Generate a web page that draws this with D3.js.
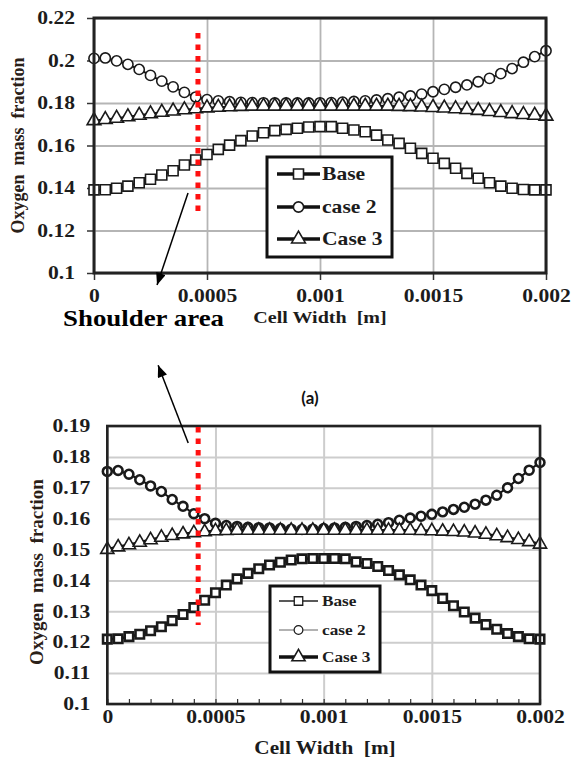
<!DOCTYPE html>
<html><head><meta charset="utf-8">
<script src="https://cdn.jsdelivr.net/npm/d3@7"></script>
<style>body{margin:0;background:#fff} svg{display:block}</style>
</head><body>
<svg id="c" width="571" height="767"></svg>
<script>
// ---------- data ----------
const cellWidth = [0,0.00005,0.0001,0.00015,0.0002,0.00025,0.0003,0.00035,0.0004,0.00045,
  0.0005,0.00055,0.0006,0.00065,0.0007,0.00075,0.0008,0.00085,0.0009,0.00095,
  0.001,0.00105,0.0011,0.00115,0.0012,0.00125,0.0013,0.00135,0.0014,0.00145,
  0.0015,0.00155,0.0016,0.00165,0.0017,0.00175,0.0018,0.00185,0.0019,0.00195,0.002];
const seriesNames = ["Base","case 2","Case 3"];

const topBase  = [0.1391,0.1392,0.1399,0.1409,0.1425,0.1441,0.1461,0.1481,0.1508,0.1532,
  0.1558,0.1582,0.1602,0.1623,0.1645,0.1660,0.1670,0.1676,0.1681,0.1687,
  0.1689,0.1689,0.1681,0.1673,0.1665,0.1649,0.1626,0.1610,0.1587,0.1563,
  0.1540,0.1516,0.1493,0.1469,0.1446,0.1425,0.1409,0.1399,0.1393,0.1391,0.1391];
const topCase2 = [0.2010,0.2012,0.1998,0.1982,0.1958,0.1930,0.1903,0.1876,0.1850,0.1828,
  0.1816,0.1810,0.1806,0.1803,0.1802,0.1801,0.1800,0.1800,0.1800,0.1800,
  0.1801,0.1802,0.1804,0.1807,0.1810,0.1814,0.1820,0.1827,0.1833,0.1842,
  0.1853,0.1864,0.1874,0.1885,0.1900,0.1916,0.1938,0.1962,0.1992,0.2018,0.2046];
const topCase3 = [0.1717,0.1722,0.1728,0.1735,0.1742,0.1749,0.1756,0.1762,0.1768,0.1773,
  0.1777,0.1780,0.1782,0.1784,0.1785,0.1785,0.1785,0.1785,0.1785,0.1785,
  0.1785,0.1785,0.1785,0.1785,0.1785,0.1785,0.1785,0.1784,0.1783,0.1781,
  0.1779,0.1776,0.1773,0.1769,0.1765,0.1760,0.1755,0.1750,0.1746,0.1742,0.1738];

const botBase  = [0.1210,0.1211,0.1218,0.1226,0.1237,0.1250,0.1270,0.1290,0.1312,0.1336,
  0.1360,0.1385,0.1405,0.1423,0.1438,0.1450,0.1459,0.1466,0.1470,0.1471,
  0.1471,0.1471,0.1470,0.1460,0.1455,0.1445,0.1432,0.1418,0.1402,0.1385,
  0.1367,0.1342,0.1318,0.1298,0.1278,0.1257,0.1242,0.1228,0.1218,0.1211,0.1210];
const botCase2 = [0.1753,0.1756,0.1744,0.1726,0.1706,0.1688,0.1662,0.1640,0.1616,0.1600,
  0.1585,0.1578,0.1575,0.1572,0.1571,0.1570,0.1568,0.1566,0.1565,0.1566,
  0.1568,0.1570,0.1572,0.1575,0.1578,0.1582,0.1587,0.1595,0.1602,0.1608,
  0.1614,0.1622,0.1630,0.1637,0.1647,0.1660,0.1676,0.1700,0.1730,0.1757,0.1782];
const botCase3 = [0.1500,0.1508,0.1515,0.1523,0.1531,0.1539,0.1545,0.1550,0.1554,0.1557,
  0.1560,0.1561,0.1562,0.1562,0.1562,0.1562,0.1562,0.1562,0.1562,0.1562,
  0.1562,0.1562,0.1562,0.1562,0.1562,0.1562,0.1562,0.1562,0.1562,0.1561,
  0.1560,0.1559,0.1558,0.1556,0.1553,0.1549,0.1544,0.1538,0.1532,0.1525,0.1517];

const xTickValues = [0,0.0005,0.001,0.0015,0.002];
const xTickLabels = ["0","0.0005","0.001","0.0015","0.002"];
const xMinorTicks = [0,0.0001,0.0002,0.0003,0.0004,0.0005,0.0006,0.0007,0.0008,0.0009,0.001,
  0.0011,0.0012,0.0013,0.0014,0.0015,0.0016,0.0017,0.0018,0.0019,0.002];
const yTopTicks  = [0.1,0.12,0.14,0.16,0.18,0.2,0.22];
const yTopLabels = ["0.1","0.12","0.14","0.16","0.18","0.2","0.22"];
const yBotTicks  = [0.1,0.11,0.12,0.13,0.14,0.15,0.16,0.17,0.18,0.19];
const yBotLabels = ["0.1","0.11","0.12","0.13","0.14","0.15","0.16","0.17","0.18","0.19"];

const xTitle = "Cell Width  [m]";
const yTitle = "Oxygen  mass  fraction";
const shoulderLabel = "Shoulder area";
const panelLabel = "(a)";
// annotations in data units
const topShoulder = {x:0.00046, y0:0.2129, y1:0.1268};
const botShoulder = {x:0.00042, y0:0.1897, y1:0.1256};
const topArrow = {x0:0.000416, y0:0.1376, x1:0.000279, y1:0.0944};
const botArrow = {x0:0.000374, y0:0.1845, x1:0.000235, y1:0.2097};

// ---------- drawing ----------
const svg = d3.select("#c");
svg.append("rect").attr("width",571).attr("height",767).attr("fill","#fff");
const SERIF = "'Liberation Serif','Times New Roman','DejaVu Serif',serif";
const SX = 1.2;

const defs = svg.append("defs");
defs.append("marker").attr("id","arr").attr("viewBox","0 0 12 10")
  .attr("refX",12).attr("refY",5).attr("markerWidth",13).attr("markerHeight",10)
  .attr("markerUnits","userSpaceOnUse").attr("orient","auto")
  .append("path").attr("d","M0,0 L12,5 L0,10 Z").attr("fill","#000");

function stext(g, x, y, txt, size, anchor, sx){
  return g.append("text")
    .attr("transform",`translate(${x},${y}) scale(${sx||SX},1)`)
    .attr("text-anchor",anchor||"middle")
    .style("font-family",SERIF).style("font-weight","bold")
    .style("font-size",size+"px").style("white-space","pre")
    .attr("fill","#1c1c1c").text(txt);
}

function panel(cfg){
  const x = d3.scaleLinear().domain([0,0.002]).range([cfg.left,cfg.right]);
  const y = d3.scaleLinear().domain(cfg.yDomain).range([cfg.bottom,cfg.top]);
  const g = svg.append("g");
  const W = cfg.right-cfg.left, H = cfg.bottom-cfg.top;

  // grid
  g.append("g").attr("transform",`translate(0,${cfg.bottom})`)
    .call(d3.axisBottom(x).tickValues(xTickValues).tickSize(-H).tickFormat(""))
    .call(a=>{a.select(".domain").remove(); a.selectAll("line").attr("stroke",cfg.gridColor).attr("stroke-width",cfg.gridW);});
  g.append("g").attr("transform",`translate(${cfg.left},0)`)
    .call(d3.axisLeft(y).tickValues(cfg.yTicks).tickSize(-W).tickFormat(""))
    .call(a=>{a.select(".domain").remove(); a.selectAll("line").attr("stroke",cfg.gridColor).attr("stroke-width",cfg.gridW);});

  // minor inner ticks
  if(cfg.minor){
    g.append("g").attr("transform",`translate(0,${cfg.bottom})`)
      .call(d3.axisBottom(x).tickValues(xMinorTicks).tickSize(-5).tickFormat(""))
      .call(a=>{a.select(".domain").remove(); a.selectAll("line").attr("stroke","#333").attr("stroke-width",1.2);});
  }

  // axes with labels
  const ya = g.append("g").attr("transform",`translate(${cfg.left},0)`)
    .call(d3.axisLeft(y).tickValues(cfg.yTicks).tickFormat((d,i)=>cfg.yLabels[i]).tickSize(cfg.outTick).tickPadding(0));
  ya.select(".domain").remove();
  ya.selectAll("line").attr("stroke","#333").attr("stroke-width",1.5);
  ya.selectAll("text").attr("x",null).attr("transform",`translate(${-cfg.yLabGap},0) scale(${SX},1)`)
    .style("font-family",SERIF).style("font-weight","bold").style("font-size","18px").attr("fill","#1c1c1c");

  const xa = g.append("g").attr("transform",`translate(0,${cfg.bottom})`)
    .call(d3.axisBottom(x).tickValues(xTickValues).tickFormat((d,i)=>xTickLabels[i]).tickSize(cfg.outTick).tickPadding(0));
  xa.select(".domain").remove();
  xa.selectAll("line").attr("stroke","#333").attr("stroke-width",1.5);
  xa.selectAll("text").attr("y",null).attr("dy",null)
    .attr("transform",`translate(0,${cfg.xLabBase}) scale(${SX},1)`)
    .style("font-family",SERIF).style("font-weight","bold").style("font-size","18px").attr("fill","#1c1c1c");

  // series
  const sym = [d3.symbolSquare, d3.symbolCircle, d3.symbolTriangle];
  cfg.series.forEach((vals,k)=>{
    const pts = cellWidth.map((c,i)=>[c,vals[i]]);
    g.append("path").datum(pts).attr("fill","none").attr("stroke","#111")
      .attr("stroke-width",cfg.lineW[k])
      .attr("d",d3.line().x(d=>x(d[0])).y(d=>y(d[1])));
    g.append("g").selectAll("path").data(pts).join("path")
      .attr("transform",d=>`translate(${x(d[0])},${y(d[1])})`)
      .attr("d",d3.symbol(sym[k], cfg.symSize[k]))
      .attr("fill","#fff").attr("stroke","#1a1a1a").attr("stroke-width",cfg.symStroke[k]);
  });

  // border
  g.append("rect").attr("x",cfg.left).attr("y",cfg.top).attr("width",W).attr("height",H)
    .attr("fill","none").attr("stroke","#222").attr("stroke-width",cfg.borderW);

  // legend
  const L = cfg.legend;
  g.append("rect").attr("x",L.x0).attr("y",L.y0).attr("width",L.x1-L.x0).attr("height",L.y1-L.y0)
    .attr("fill","#fff").attr("stroke","#111").attr("stroke-width",3);
  seriesNames.forEach((nm,k)=>{
    const ry = L.rows[k];
    g.append("line").attr("x1",L.lx0).attr("x2",L.lx1).attr("y1",ry).attr("y2",ry)
      .attr("stroke",L.lineC[k]).attr("stroke-width",L.lineW[k]);
    g.append("path").attr("transform",`translate(${(L.lx0+L.lx1)/2},${ry})`)
      .attr("d",d3.symbol(sym[k], L.symSize[k])).attr("fill","#fff").attr("stroke","#1a1a1a").attr("stroke-width",L.symStroke[k]);
    stext(g, L.tx, ry+L.fs*0.33, nm, L.fs, "start", L.sx);
  });

  // shoulder red dotted line
  const s = cfg.shoulder;
  g.append("line").attr("x1",x(s.x)).attr("x2",x(s.x)).attr("y1",y(s.y0)).attr("y2",y(s.y1))
    .attr("stroke","#ff1010").attr("stroke-width",5).attr("stroke-dasharray","5.5,6");

  // arrow
  const a = cfg.arrow;
  g.append("line").attr("x1",x(a.x0)).attr("y1",y(a.y0)).attr("x2",x(a.x1)).attr("y2",y(a.y1))
    .attr("stroke","#000").attr("stroke-width",1.5).attr("marker-end","url(#arr)");

  // axis titles
  stext(g, cfg.xTitleX, cfg.xTitleY, xTitle, cfg.xTitleFs, "middle", 1.18);
  g.append("text").attr("transform",`translate(${cfg.yTitleX},${(cfg.top+cfg.bottom)/2+cfg.yTitleDy}) rotate(-90)`)
    .attr("text-anchor","middle").attr("dominant-baseline","central")
    .style("font-family",SERIF).style("font-weight","bold").style("font-size",cfg.yTitleFs+"px")
    .style("white-space","pre").attr("fill","#2a2018").text(yTitle);
  return {x,y,g};
}

panel({
  left:94, right:546, top:18, bottom:273, yDomain:[0.1,0.22],
  yTicks:yTopTicks, yLabels:yTopLabels, outTick:7, yLabGap:19, xLabBase:29,
  gridColor:"#b5b5b5", gridW:1.8, borderW:3, minor:false,
  series:[topBase, topCase2, topCase3], lineW:[2,2,2.2],
  symSize:[100,82,82], symStroke:[1.6,1.6,1.6],
  legend:{x0:267,y0:157,x1:392,y1:257,rows:[174,207,239],lx0:277,lx1:320,tx:322,
    lineC:["#111","#111","#111"], lineW:[3.5,3.5,3.5], symSize:[100,82,82], symStroke:[1.6,1.6,1.6], fs:18, sx:1.2},
  shoulder:topShoulder, arrow:topArrow,
  xTitleX:320, xTitleY:323, xTitleFs:17, yTitleX:18, yTitleDy:0, yTitleFs:18
});

panel({
  left:107.3, right:540, top:426, bottom:704, yDomain:[0.1,0.19],
  yTicks:yBotTicks, yLabels:yBotLabels, outTick:0, yLabGap:17, xLabBase:19,
  gridColor:"#cdcdcd", gridW:2, borderW:2.6, minor:true,
  series:[botBase, botCase2, botCase3], lineW:[2.5,2,3],
  symSize:[72,62,75], symStroke:[2.6,2.6,1.6],
  legend:{x0:270,y0:586,x1:380,y1:672,rows:[601,630,657],lx0:279,lx1:318,tx:322,
    lineC:["#222","#666","#111"], lineW:[1.6,1.1,3.5], symSize:[72,60,75], symStroke:[1.3,1.2,1.6], fs:15, sx:1.15},
  shoulder:botShoulder, arrow:botArrow,
  xTitleX:325, xTitleY:754, xTitleFs:18, yTitleX:36, yTitleDy:7, yTitleFs:19
});

// free text
stext(svg, 143.5, 326, shoulderLabel, 24, "middle", 1.12).attr("fill","#000");
svg.append("text").attr("x",310).attr("y",404).attr("text-anchor","middle")
  .style("font-family","Lato,'Open Sans',sans-serif").style("font-weight","bold").style("font-size","17px")
  .attr("fill","#111").text(panelLabel);
</script>
</body></html>
